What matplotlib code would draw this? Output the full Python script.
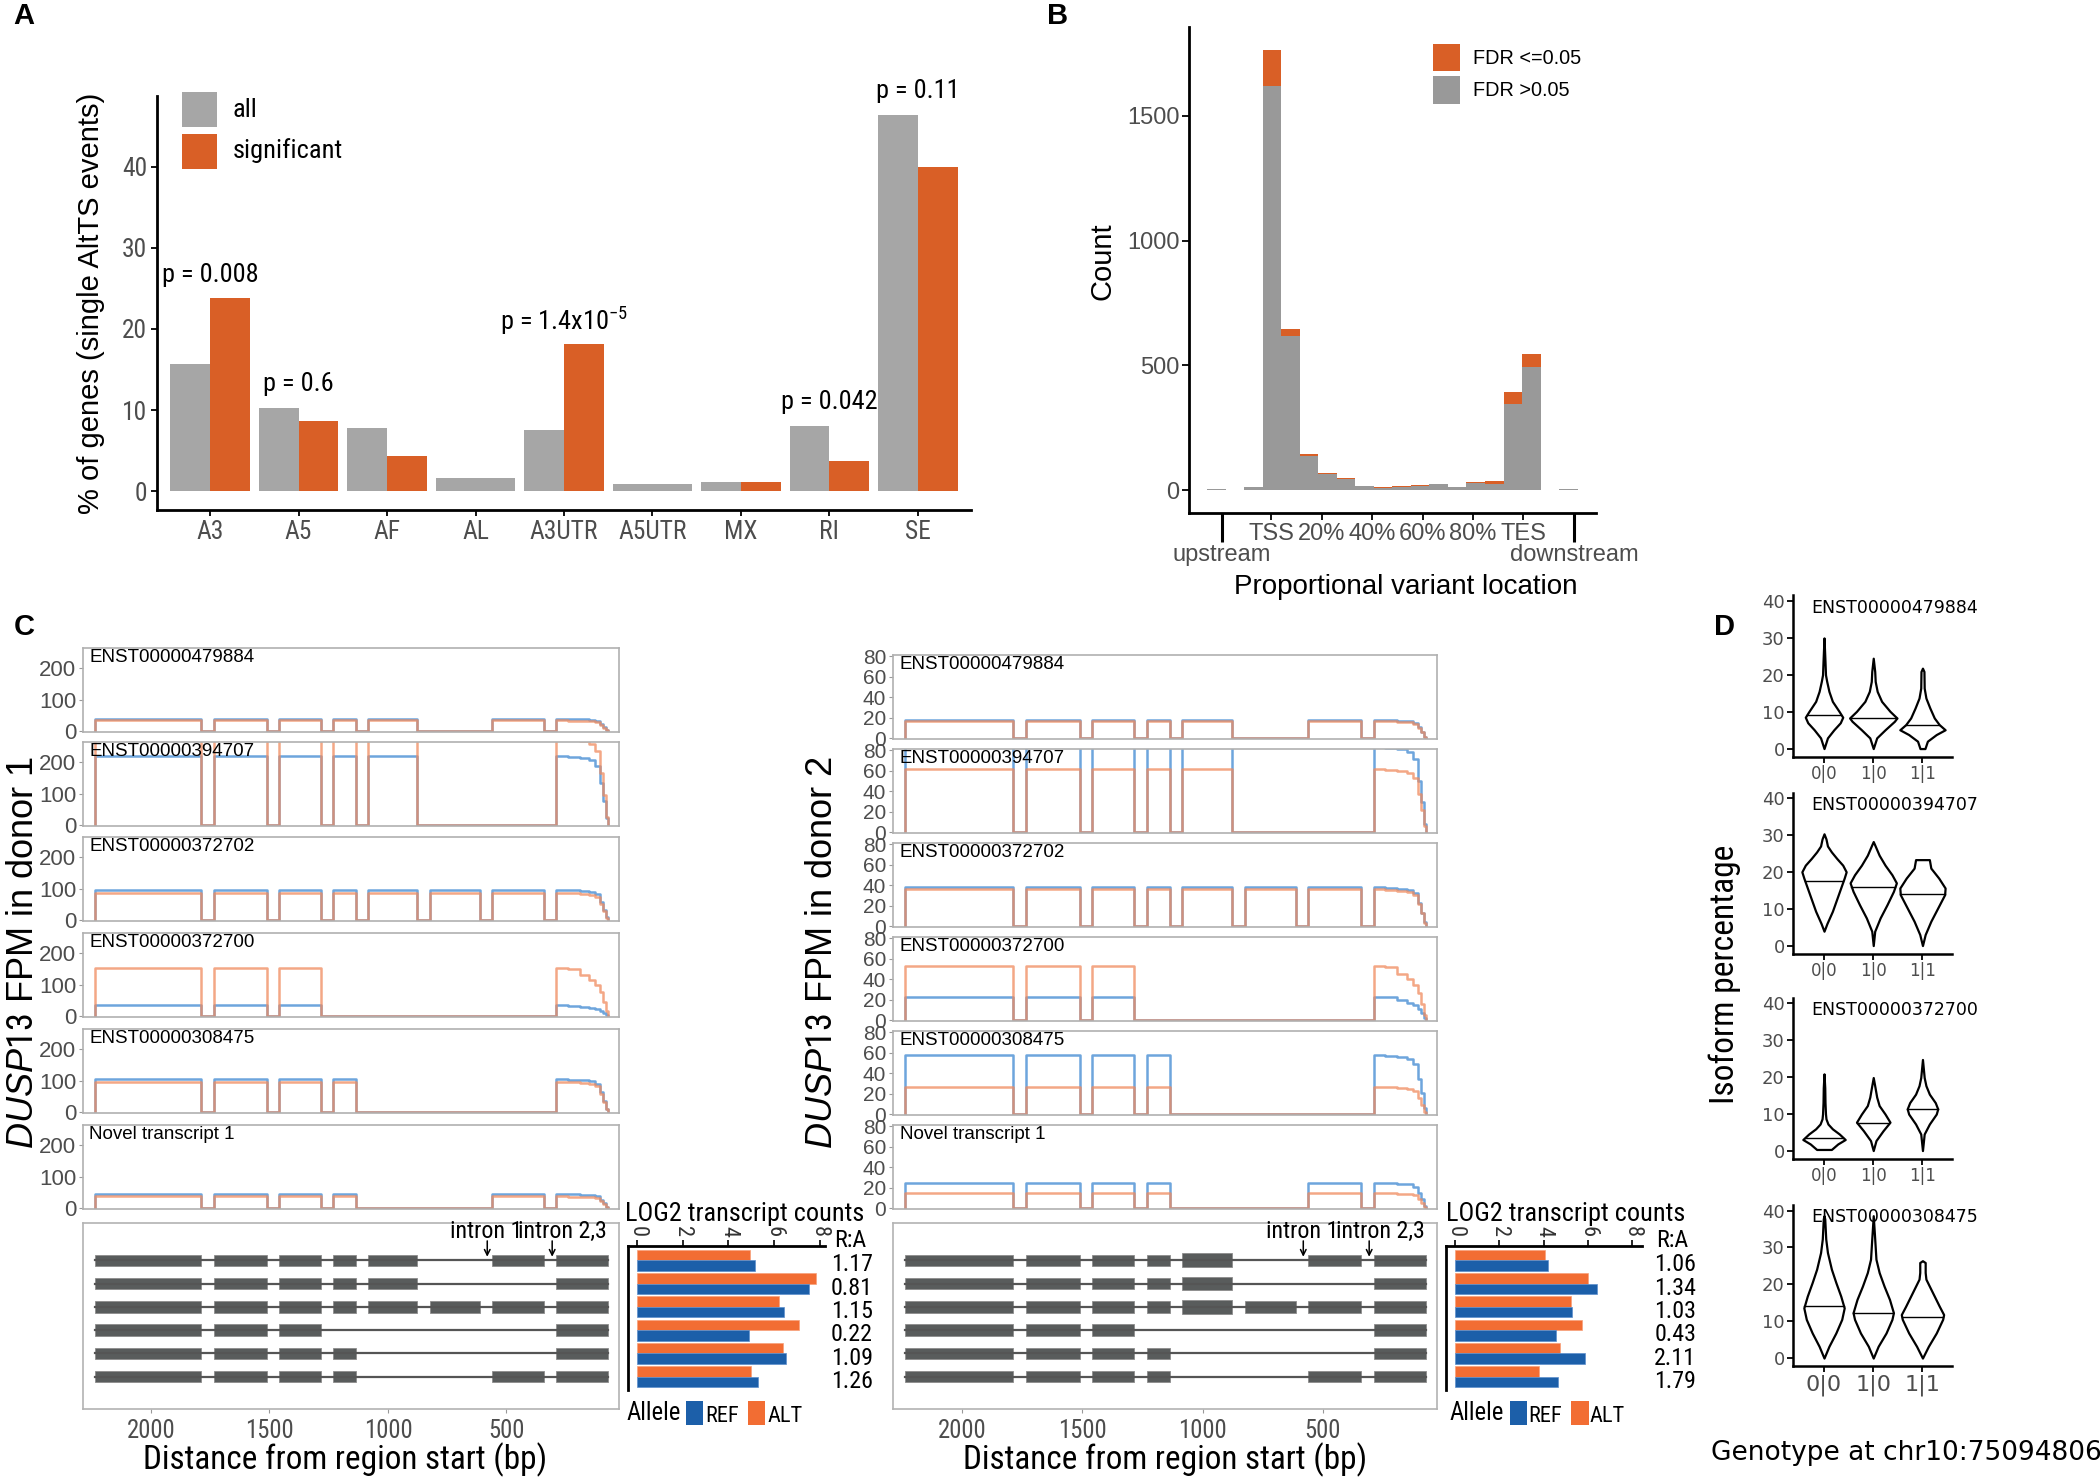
import numpy as np
import matplotlib.pyplot as plt
from matplotlib import font_manager
from matplotlib.patches import Rectangle

W, H = 2100, 1477
SANS = 'Liberation Sans'
GEO = 'DejaVu Sans'
names = {f.name for f in font_manager.fontManager.ttflist}
narrow = [n for n in ['Liberation Sans Narrow', 'Roboto Condensed', 'Open Sans Condensed']
          if n in names]
narrow += sorted(n for n in names if 'Narrow' in n or 'Condensed' in n)
NARROW = narrow[0] if narrow else SANS
NS = 1.15 if narrow else 1.0   # narrow faces need a bigger size for the same width

plt.rcParams['font.family'] = [SANS, 'DejaVu Sans']
plt.rcParams['mathtext.fontset'] = 'custom'
plt.rcParams['mathtext.rm'] = NARROW
plt.rcParams['mathtext.it'] = SANS + ':italic'

TICK_GREY = '#4d4d4d'
GREY_A = '#a6a6a6'
GREY_B = '#999999'
ORANGE = '#d95f26'
REF_LINE = '#4a8fd4'
ALT_LINE = '#f08a5d'
REF_BAR = '#1c5fa9'
ALT_BAR = '#f26d33'

# ---------------- data ----------------
# A: % of genes per event type
event_types = ['A3', 'A5', 'AF', 'AL', 'A3UTR', 'A5UTR', 'MX', 'RI', 'SE']
pct_all = [15.7, 10.3, 7.8, 1.7, 7.5, 0.9, 1.2, 8.1, 46.4]
pct_sig = [23.8, 8.7, 4.3, np.nan, 18.1, np.nan, 1.2, 3.7, 40.0]
p_cats = ['A3', 'A5', 'A3UTR', 'RI', 'SE']
p_texts = ['p = 0.008', 'p = 0.6', r'p = 1.4x10$^{-5}$', 'p = 0.042', 'p = 0.11']

# B: histogram of proportional variant location (20 bins)
count_ns = [5, 1, 12, 1617, 616, 136, 64, 45, 17, 9, 15, 17, 25, 12, 30, 25, 347, 495, 1, 5]
count_sig = [0, 0, 2, 147, 31, 8, 5, 5, 2, 5, 1, 6, 2, 2, 3, 14, 47, 50, 0, 0]
loc_ticks = [2.98, 5.69, 8.42, 11.13, 13.84, 16.55]
loc_labels = ['TSS', '20%', '40%', '60%', '80%', 'TES']
flank_ticks = [0.31, 19.32]
flank_labels = ['upstream', 'downstream']

# C: DUSP13 transcripts
transcripts = ['ENST00000479884', 'ENST00000394707', 'ENST00000372702',
               'ENST00000372700', 'ENST00000308475', 'Novel transcript 1']
exon_starts = [1787, 1510, 1283, 1135, 876, 613, 342, 72]
exon_ends = [2237, 1734, 1459, 1230, 1084, 823, 562, 289]
tx_exons = [[0, 1, 2, 3, 4, 6, 7], [0, 1, 2, 3, 4, 7], [0, 1, 2, 3, 4, 5, 6, 7],
            [0, 1, 2, 7], [0, 1, 2, 3, 7], [0, 1, 2, 3, 6, 7]]
tail_bp = [289, 240, 190, 150, 125, 105, 92, 80, 72]
tail_fast = [1.0, 0.98, 0.96, 0.93, 0.85, 0.6, 0.35, 0.1, 0.0]
tail_slow = [1.0, 0.97, 0.85, 0.75, 0.65, 0.5, 0.3, 0.1, 0.0]
slow_tail = [False, False, False, True, False, False]
d1_ref_fpm = [40, 222, 98, 35, 106, 45]
d1_alt_fpm = [35, 278, 88, 155, 98, 38]
d2_ref_fpm = [18, 84, 38, 23, 58, 25]
d2_alt_fpm = [17, 62, 36, 53, 27, 15]
d1_ref_log2 = [5.17, 7.55, 6.42, 4.92, 6.52, 5.30]
d1_alt_log2 = [4.95, 7.85, 6.22, 7.10, 6.40, 4.97]
d1_ratio = ['1.17', '0.81', '1.15', '0.22', '1.09', '1.26']
d2_ref_log2 = [4.18, 6.41, 5.27, 4.56, 5.87, 4.66]
d2_alt_log2 = [4.08, 5.99, 5.23, 5.75, 4.75, 3.80]
d2_ratio = ['1.06', '1.34', '1.03', '0.43', '2.11', '1.79']

# D: isoform percentage violins, outline as (percentage, half width)
genotypes = ['0|0', '1|0', '1|1']
iso_names = ['ENST00000479884', 'ENST00000394707', 'ENST00000372700', 'ENST00000308475']
vio_479884 = [
    ([0, 2.9, 5.1, 7, 8.5, 10, 12.8, 15.5, 18.2, 20, 23.6, 30],
     [0, .07, .2, .33, .38, .31, .17, .10, .055, .03, .02, 0]),
    ([0, 2.9, 5.1, 7.4, 8.3, 10.1, 12.8, 15.5, 18.2, 20.9, 24.5],
     [0, .07, .24, .43, .48, .34, .17, .08, .04, .03, 0]),
    ([0, 2, 3.8, 5.1, 6.5, 8.3, 11, 13.7, 16.4, 20.9, 21.8],
     [.05, .1, .28, .46, .34, .24, .15, .07, .035, .03, 0]),
]
vio_394707 = [
    ([3.9, 6, 9.3, 13.8, 18.3, 20, 21.8, 23.6, 25.4, 27, 28.9, 30.3],
     [0, .06, .17, .29, .41, .45, .38, .26, .15, .07, .04, 0]),
    ([0, 3.9, 7.5, 11.1, 14.7, 17, 19.2, 21.8, 24.5, 27.3, 28.2],
     [0, .03, .14, .28, .41, .47, .38, .24, .12, .03, 0]),
    ([0, 3, 6.6, 10.2, 13.8, 15.6, 18.3, 21, 23.3],
     [0, .055, .17, .31, .45, .46, .33, .17, .14]),
]
vio_372700 = [
    ([0.3, 1.8, 3, 4.5, 5.9, 7.2, 8.6, 9.9, 13, 17, 20.8],
     [.15, .28, .43, .31, .17, .08, .04, .03, .02, .015, 0]),
    ([0, 2.7, 5.4, 7.7, 9.9, 12.2, 14.5, 17.2, 19.8],
     [0, .055, .2, .34, .24, .12, .07, .035, 0]),
    ([0, 4.5, 7.2, 9.9, 11.3, 13, 15.3, 17.6, 19.8, 24.7],
     [0, .035, .14, .28, .31, .26, .14, .07, .035, 0]),
]
vio_308475 = [
    ([0, 3.2, 6.8, 10.5, 13.6, 16.8, 20.5, 24.1, 28.6, 32.3, 37.7, 38.6],
     [0, .1, .24, .36, .41, .34, .24, .15, .07, .035, .015, 0]),
    ([0, 3.2, 6.8, 10.5, 12.3, 15.9, 19.5, 23.2, 26.8, 32.3, 38.6],
     [0, .1, .26, .38, .41, .33, .22, .12, .055, .03, 0]),
    ([0, 3.2, 6.8, 10.5, 11.8, 14.1, 16.8, 19.5, 21.4, 23.2, 25.9, 26.4],
     [0, .12, .28, .41, .43, .34, .24, .14, .07, .055, .055, 0]),
]
medians = [[9.2, 8.2, 6.5], [17.5, 16.0, 14.0], [3.5, 7.5, 11.2], [14.0, 12.3, 11.0]]

# ---------------- helpers ----------------
fig = plt.figure(figsize=(W / 100, H / 100), dpi=100)


def add_ax(x0, y0, x1, y1):
    return fig.add_axes([x0 / W, 1 - y1 / H, (x1 - x0) / W, (y1 - y0) / H])


def ftext(x, y, s, **kw):
    kw.setdefault('ha', 'center')
    kw.setdefault('va', 'center')
    return fig.text(x / W, 1 - y / H, s, **kw)


def fbox(x0, y0, x1, y1, color):
    fig.add_artist(Rectangle((x0 / W, 1 - y1 / H), (x1 - x0) / W, (y1 - y0) / H,
                             transform=fig.transFigure, color=color, lw=0))


def coverage(exons, level, slow):
    frac = tail_slow if slow else tail_fast
    xs, ys = [], []
    for e in exons:
        if e == 7:
            xs.append(tail_bp[0])
            ys.append(0)
            for k in range(len(tail_bp) - 1):
                xs += [tail_bp[k], tail_bp[k + 1]]
                ys += [level * frac[k]] * 2
            xs.append(tail_bp[-1])
            ys.append(0)
        else:
            xs += [exon_ends[e], exon_ends[e], exon_starts[e], exon_starts[e]]
            ys += [0, level, level, 0]
    return xs, ys


# ---------------- panel labels ----------------
for lab, x, y in [('A', 24, 16), ('B', 1058, 16), ('C', 24, 627), ('D', 1725, 627)]:
    ftext(x, y, lab, fontsize=21, fontweight='bold')

# ---------------- A ----------------
axA = add_ax(157, 96, 971, 510)
xc = np.arange(1, len(event_types) + 1)
for i in range(len(event_types)):
    if np.isnan(pct_sig[i]):
        axA.bar(xc[i], pct_all[i], 0.9, color=GREY_A)
    else:
        axA.bar(xc[i] - 0.225, pct_all[i], 0.45, color=GREY_A)
        axA.bar(xc[i] + 0.225, pct_sig[i], 0.45, color=ORANGE)
for cat, txt in zip(p_cats, p_texts):
    i = event_types.index(cat)
    top = np.nanmax([pct_all[i], pct_sig[i]])
    axA.text(xc[i], top + 2.9, txt, ha='center', va='center', fontsize=16.5 * NS,
             family=NARROW, clip_on=False)
axA.set_xlim(0.4, 9.6)
axA.set_ylim(-2.3, 48.7)
axA.set_xticks(xc, event_types, fontfamily=NARROW, fontsize=16 * NS, color=TICK_GREY)
axA.set_yticks([0, 10, 20, 30, 40], ['0', '10', '20', '30', '40'],
               fontfamily=NARROW, fontsize=16 * NS, color=TICK_GREY)
axA.spines[['top', 'right']].set_visible(False)
axA.spines[['left', 'bottom']].set_linewidth(2)
axA.tick_params(length=4, width=1.3, pad=3)
ftext(91, 303, '% of genes (single AltTS events)', rotation=90, fontsize=21, family=SANS)
fbox(182, 92, 217, 127, GREY_A)
fbox(182, 134, 217, 169, ORANGE)
ftext(233, 110, 'all', ha='left', fontsize=16.5 * NS, family=NARROW)
ftext(233, 151, 'significant', ha='left', fontsize=16.5 * NS, family=NARROW)

# ---------------- B ----------------
axB = add_ax(1189, 27, 1596, 513)
bins = np.arange(len(count_ns))
axB.bar(bins, count_ns, 1.0, color=GREY_B)
axB.bar(bins, count_sig, 1.0, bottom=count_ns, color=ORANGE)
axB.set_xlim(-1.47, 20.49)
axB.set_ylim(-91, 1855)
axB.set_yticks([0, 500, 1000, 1500], ['0', '500', '1000', '1500'],
               fontsize=17, color=TICK_GREY)
axB.set_xticks(loc_ticks, loc_labels, fontsize=17, color=TICK_GREY)
axB.set_xticks(flank_ticks, flank_labels, minor=True, fontsize=17, color=TICK_GREY)
axB.tick_params(axis='x', which='major', length=5, width=1.3, pad=2)
axB.tick_params(axis='x', which='minor', length=21, width=2.2, pad=1)
axB.tick_params(axis='y', length=5, width=1.3, pad=2)
axB.spines[['top', 'right']].set_visible(False)
axB.spines[['left', 'bottom']].set_linewidth(2)
ftext(1102, 261, 'Count', rotation=90, fontsize=21)
ftext(1406, 587, 'Proportional variant location', fontsize=20)
fbox(1433, 44, 1460, 71, ORANGE)
fbox(1433, 76, 1460, 104, GREY_B)
ftext(1473, 59, 'FDR <=0.05', ha='left', fontsize=14.3)
ftext(1473, 90, 'FDR >0.05', ha='left', fontsize=14.3)

# ---------------- C ----------------
donors = [
    dict(x0=83, x1=619, tops=[648, 742, 837, 933, 1029, 1125], ref=d1_ref_fpm, alt=d1_alt_fpm,
         ylim=(-2, 265), yt=[0, 100, 200], ytsize=16, bar=(627.5, 825), bxlim=(-0.42, 8.23),
         ref2=d1_ref_log2, alt2=d1_alt_log2, ratio=d1_ratio, rx=(9.33, 9.41), tx=4.7,
         ylab='donor 1', ylx=24, xlab_x=345, thick=[],
         leg=(626, 686, 703, 705, 748, 765, 767)),
    dict(x0=893, x1=1437, tops=[655, 749, 843, 937, 1031, 1125], ref=d2_ref_fpm, alt=d2_alt_fpm,
         ylim=(-0.6, 81), yt=[0, 20, 40, 60, 80], ytsize=15, bar=(1446, 1642), bxlim=(-0.41, 8.45),
         ref2=d2_ref_log2, alt2=d2_alt_log2, ratio=d2_ratio, rx=(9.82, 9.95), tx=5.0,
         ylab='donor 2', ylx=822, xlab_x=1165, thick=[0, 1, 2],
         leg=(1449, 1510, 1527, 1528, 1571, 1589, 1590)),
]
XLIM = (2287, 25)
for d in donors:
    for r, top in enumerate(d['tops']):
        ax = add_ax(d['x0'], top, d['x1'], top + 84)
        xs, ys = coverage(tx_exons[r], d['ref'][r], slow_tail[r])
        ax.plot(xs, ys, color=REF_LINE, lw=1.8, alpha=0.8)
        xs, ys = coverage(tx_exons[r], d['alt'][r], slow_tail[r])
        ax.plot(xs, ys, color=ALT_LINE, lw=1.8, alpha=0.75)
        ax.set_xlim(*XLIM)
        ax.set_ylim(*d['ylim'])
        ax.set_xticks([])
        ax.set_yticks(d['yt'], [str(v) for v in d['yt']], fontsize=d['ytsize'], color=TICK_GREY)
        ax.tick_params(axis='y', length=3, width=0.8, color='#999999', pad=2)
        for s in ax.spines.values():
            s.set_color('#b0b0b0')
            s.set_linewidth(1.2)
        ax.text(0.012, 0.99, transcripts[r], transform=ax.transAxes, ha='left', va='top',
                fontsize=13.5)
    ftext(d['ylx'], 952, r'$\it{DUSP13}$ FPM in ' + d['ylab'], rotation=90, fontsize=26)

    # gene models
    axG = add_ax(d['x0'], 1223, d['x1'], 1409)
    for r, exons in enumerate(tx_exons):
        axG.plot([exon_ends[exons[0]], exon_starts[exons[-1]]], [r, r], color='#555555', lw=1.6)
        for e in exons:
            hh = 0.58 if (r in d['thick'] and e == 4) else 0.49
            axG.add_patch(Rectangle((exon_starts[e], r - hh / 2), exon_ends[e] - exon_starts[e], hh,
                                    facecolor='#595c5c', edgecolor='#8c8c8c', lw=0.6))
    for ax_bp, tx_bp, lab in [(581, 585, 'intron 1'), (307, 262, 'intron 2,3')]:
        axG.annotate('', xy=(ax_bp, -0.03), xytext=(ax_bp, -0.95),
                     arrowprops=dict(arrowstyle='->', color='black', lw=1.1))
        axG.text(tx_bp, -1.22, lab, ha='center', va='center', fontsize=15 * NS, family=NARROW)
    axG.set_xlim(*XLIM)
    axG.set_ylim(6.39, -1.6)
    axG.set_yticks([])
    axG.set_xticks([2000, 1500, 1000, 500], ['2000', '1500', '1000', '500'],
                   fontfamily=NARROW, fontsize=15.5 * NS, color=TICK_GREY)
    axG.tick_params(axis='x', length=3, width=0.8, color='#999999', pad=4)
    for s in axG.spines.values():
        s.set_color('#b3b3b3')
        s.set_linewidth(1.2)
    ftext(d['xlab_x'], 1460, 'Distance from region start (bp)', fontsize=20.8 * NS, family=NARROW)

    # LOG2 transcript counts
    b0, b1 = d['bar']
    axC = add_ax(b0, 1223 + (-0.62 + 1.6) * (186 / 7.99), b1, 1223 + (5.58 + 1.6) * (186 / 7.99))
    rows = np.arange(len(transcripts))
    axC.barh(rows - 0.225, d['alt2'], 0.45, color=ALT_BAR, edgecolor='#f7a07a', lw=0.5)
    axC.barh(rows + 0.225, d['ref2'], 0.45, color=REF_BAR, edgecolor='#5d8fcc', lw=0.5)
    axC.set_xlim(*d['bxlim'])
    axC.set_ylim(5.58, -0.62)
    axC.set_yticks([])
    axC.xaxis.tick_top()
    axC.set_xticks([0, 2, 4, 6, 8], ['0', '2', '4', '6', '8'], rotation=-90,
                   fontfamily=NARROW, fontsize=14 * NS, color='#333333')
    axC.tick_params(axis='x', length=4, width=1.2, pad=2)
    axC.spines[['bottom', 'right']].set_visible(False)
    axC.spines[['left', 'top']].set_linewidth(2)
    axC.text(d['rx'][0], -0.83, 'R:A', ha='center', va='center', fontsize=15 * NS,
             family=NARROW, clip_on=False)
    for r, lab in enumerate(d['ratio']):
        axC.text(d['rx'][1], r + 0.2, lab, ha='center', va='center', fontsize=15 * NS,
                 family=NARROW, clip_on=False)
    axC.text(d['tx'], -2.0, 'LOG2 transcript counts', ha='center', va='center',
             fontsize=16.4 * NS, family=NARROW, clip_on=False)
    lx, rs0, rs1, rt, as0, as1, at = d['leg']
    ftext(lx, 1413, 'Allele', ha='left', fontsize=15.5 * NS, family=NARROW)
    fbox(rs0, 1401, rs1, 1425, REF_BAR)
    ftext(rt, 1416, 'REF', ha='left', fontsize=14 * NS, family=NARROW)
    fbox(as0, 1401, as1, 1425, ALT_BAR)
    ftext(at, 1416, 'ALT', ha='left', fontsize=14 * NS, family=NARROW)

# ---------------- D ----------------
vio_sets = [vio_479884, vio_394707, vio_372700, vio_308475]
d_tops = [595.5, 792.5, 997.5, 1205]
for k, (vset, top) in enumerate(zip(vio_sets, d_tops)):
    ax = add_ax(1793, top, 1952, top + 161)
    for g, (vy, vw) in enumerate(vset):
        vy = np.array(vy)
        vw = np.array(vw)
        ax.fill_betweenx(vy, g - vw, g + vw, facecolor='white', edgecolor='black', lw=1.6)
        m = medians[k][g]
        hw = np.interp(m, vy, vw)
        ax.plot([g - hw, g + hw], [m, m], color='black', lw=1.0)
    ax.set_xlim(-0.63, 2.6)
    ax.set_ylim(-2.15, 41.5)
    ax.set_yticks([0, 10, 20, 30, 40], ['0', '10', '20', '30', '40'],
                  fontfamily=GEO, fontsize=13, color=TICK_GREY)
    ax.set_xticks([0, 1, 2], genotypes, fontfamily=GEO,
                  fontsize=16 if k == 3 else 12, color=TICK_GREY)
    ax.tick_params(length=4, width=1.3, pad=2)
    ax.spines[['top', 'right']].set_visible(False)
    ax.spines[['left', 'bottom']].set_linewidth(1.8)
    ax.text(-0.26, 38.2, iso_names[k], ha='left', va='center', fontsize=12.5,
            family=GEO, clip_on=False)
ftext(1725, 974, 'Isoform percentage', rotation=90, fontsize=21 * NS, family=NARROW)
ftext(1906, 1453, 'Genotype at chr10:75094806', fontsize=19, family=GEO)

fig.savefig('out.png', dpi=100)
